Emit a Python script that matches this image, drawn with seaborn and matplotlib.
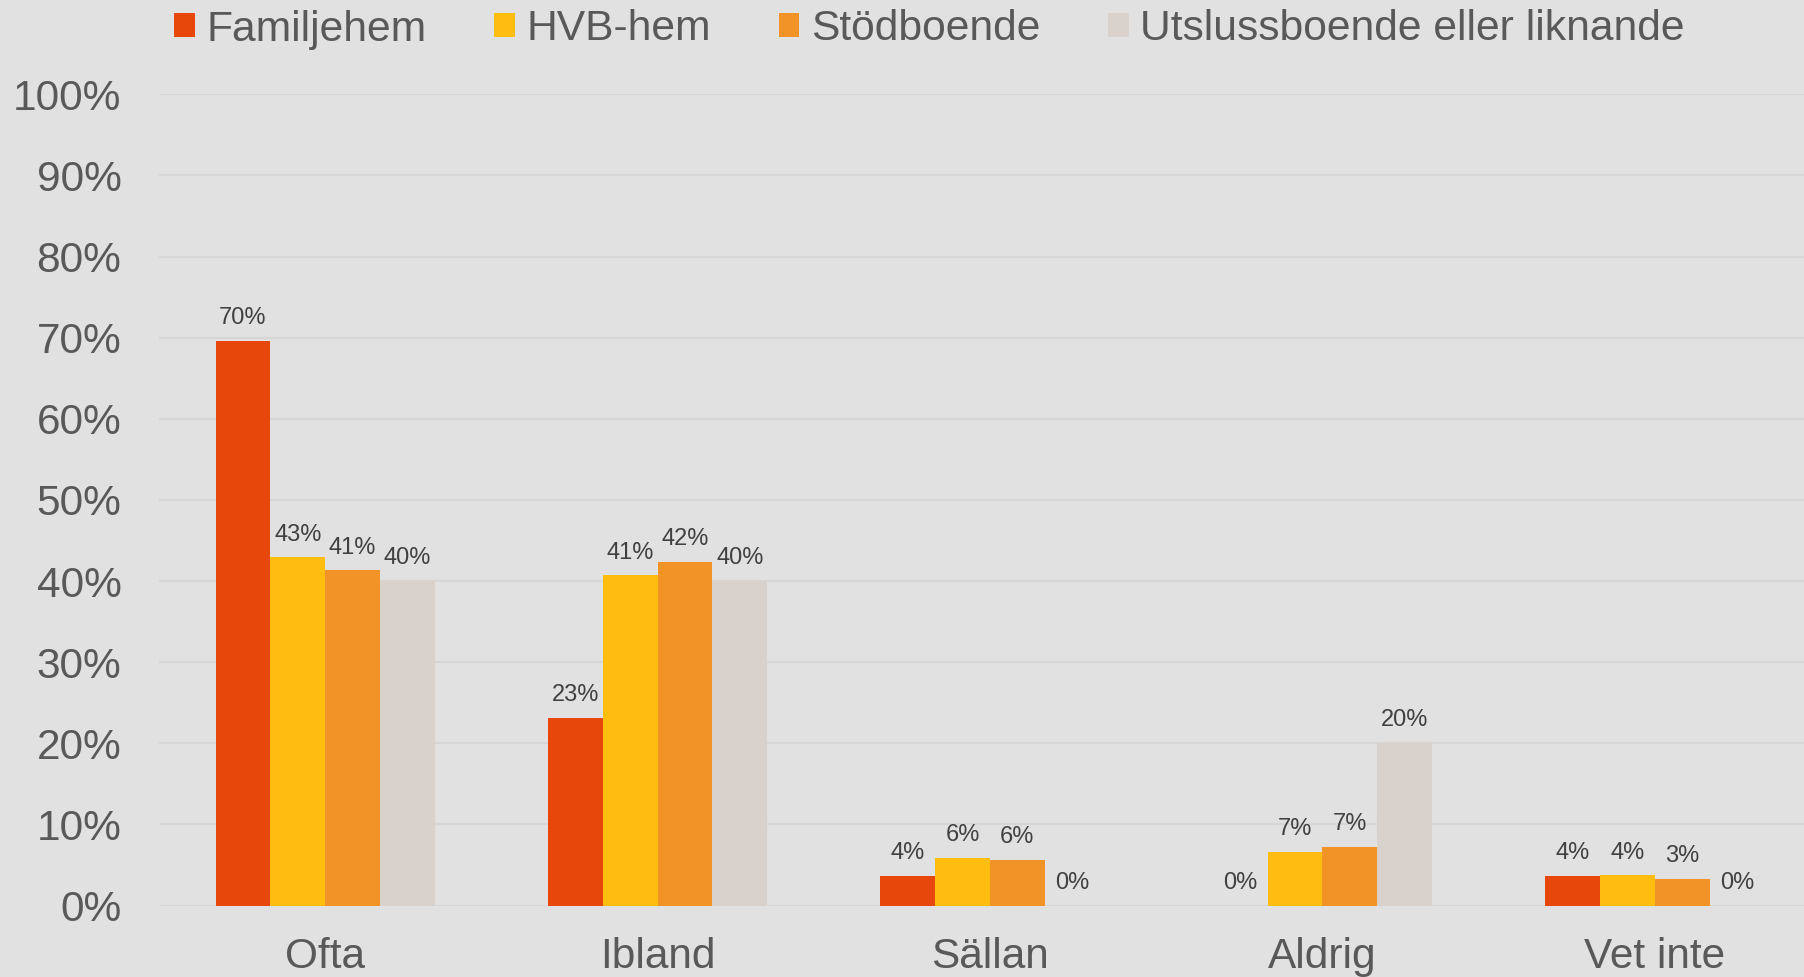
import pandas as pd
import seaborn as sns
import matplotlib.pyplot as plt
from matplotlib.patches import Patch

# data (percent)
kategorier = ['Ofta', 'Ibland', 'Sällan', 'Aldrig', 'Vet inte']
boende = ['Familjehem', 'HVB-hem', 'Stödboende', 'Utslussboende eller liknande']
familjehem = [69.6, 23.1, 3.6, 0.0, 3.6]
hvb_hem = [42.9, 40.7, 5.9, 6.6, 3.7]
stodboende = [41.3, 42.4, 5.6, 7.2, 3.3]
utsluss = [40.0, 40.0, 0.0, 20.0, 0.0]
farger = ['#E8470B', '#FFBE0F', '#F29327', '#D9D2CC']

rader = []
for namn, varden in zip(boende, [familjehem, hvb_hem, stodboende, utsluss]):
    for kat, v in zip(kategorier, varden):
        rader.append({'kategori': kat, 'boende': namn, 'andel': v})
df = pd.DataFrame(rader)

sns.set_theme(style='white')
plt.rcParams['font.family'] = ['Liberation Sans', 'DejaVu Sans']

bg = '#E1E1E1'
txt = '#595959'

fig = plt.figure(figsize=(18.04, 9.77), dpi=100, facecolor=bg)
ax = fig.add_axes([159 / 1804, 1 - 905.5 / 977, (1821 - 159) / 1804, (905.5 - 94.3) / 977])
ax.set_facecolor(bg)

sns.barplot(data=df, x='kategori', y='andel', hue='boende', order=kategorier,
            hue_order=boende, palette=farger, width=0.66, saturation=1,
            legend=False, ax=ax, zorder=3, linewidth=0, edgecolor='none')

for cont in ax.containers:
    ax.bar_label(cont, labels=[f'{b.get_height():.0f}%' for b in cont],
                 padding=8.5, fontsize=17, color='#404040')

ax.set_ylim(0, 100)
ax.set_xlim(-0.5, 4.5)
ax.set_yticks(range(0, 101, 10))
ax.set_yticklabels([f'{t}%' for t in range(0, 101, 10)])
ax.yaxis.grid(True, color='#D6D6D6', linewidth=1.5, zorder=0)
ax.set_axisbelow(True)
ax.tick_params(axis='y', length=0, pad=27, labelsize=30.5, labelcolor=txt)
ax.tick_params(axis='x', length=0, pad=23, labelsize=30.5, labelcolor=txt)
ax.set_xlabel('')
ax.set_ylabel('')
sns.despine(ax=ax, left=True, bottom=True)

handles = [Patch(facecolor=c, edgecolor='none') for c in farger]
fig.legend(handles, boende, loc='center', bbox_to_anchor=(929.5 / 1804, 1 - 29.5 / 977),
           ncol=4, frameon=False, fontsize=30.7, labelcolor=txt,
           handlelength=0.49, handleheight=0.49, handletextpad=0.27,
           columnspacing=1.58, borderpad=0, borderaxespad=0)

fig.savefig('out.png', dpi=100, facecolor=bg)
